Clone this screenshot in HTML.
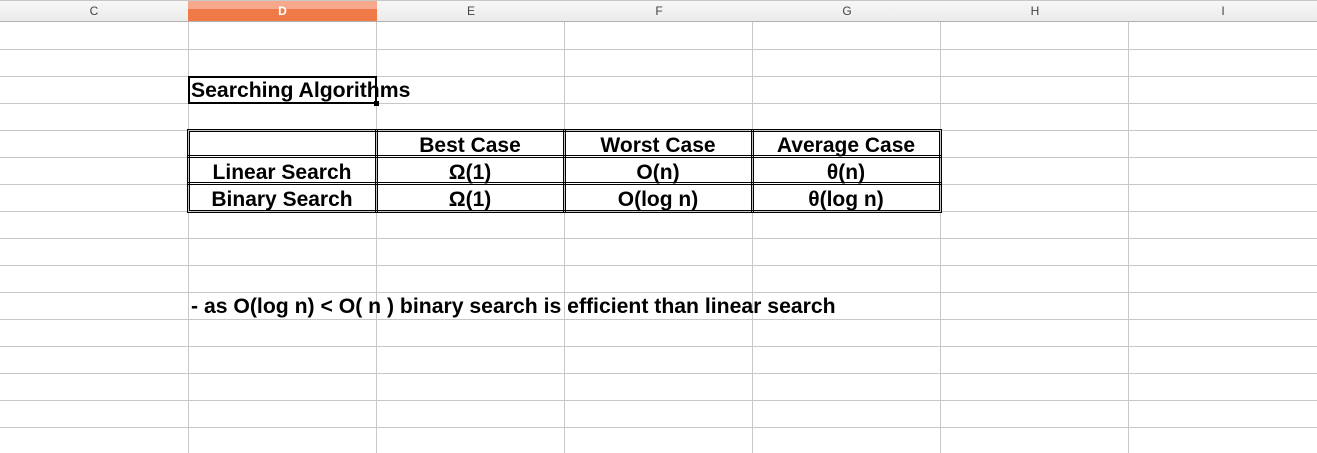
<!DOCTYPE html>
<html><head><meta charset="utf-8"><style>
body{margin:0;width:1317px;height:453px;overflow:hidden;background:#fff;font-family:"Liberation Sans",sans-serif;position:relative}
.hdr{position:absolute;top:0;height:22px;background:linear-gradient(#f7f7f7,#ebebeb);border-top:1px solid #c8c8c8;border-bottom:1px solid #b0b0b0;box-sizing:border-box;font-size:12px;color:#444;text-align:center;line-height:21px}
.hdr.sel{background:linear-gradient(#f6a88c 0,#f6a88c 40%,#ef7a48 40%,#ef7a48 100%);color:#fff;font-weight:bold}
.v{position:absolute;top:22px;bottom:0;width:1px;background:#c8c8c8}
.hl{position:absolute;left:0;right:0;height:1px;background:#c8c8c8}
.t{position:absolute;font-weight:bold;font-size:21.2px;color:#000;white-space:nowrap}
.c{position:absolute;font-weight:bold;font-size:21px;text-align:center;width:188px;line-height:27px}
.dbl{position:absolute;border:3px double #000;box-sizing:border-box}
</style></head><body>
<div class="hdr" style="left:0;width:188px">C</div>
<div class="hdr sel" style="left:188px;width:189px">D</div>
<div class="hdr" style="left:377px;width:188px">E</div>
<div class="hdr" style="left:565px;width:188px">F</div>
<div class="hdr" style="left:753px;width:188px">G</div>
<div class="hdr" style="left:941px;width:188px">H</div>
<div class="hdr" style="left:1129px;width:188px">I</div>
<div id="grid"></div>
<div class="dbl" style="left:188px;top:76px;width:189px;height:28px;border:2px solid #000"></div>
<div style="position:absolute;left:374px;top:101px;width:5px;height:5px;background:#000"></div>
<div class="t" style="left:191px;top:79px">Searching Algorithms</div>
<div class="dbl" style="left:187px;top:129px;width:755px;height:84px"></div>
<div id="tbl"></div>
<div class="t" style="left:191px;top:295px">- as O(log n) &lt; O( n ) binary search is efficient than linear search</div>
<script>
const grid=document.getElementById('grid');
[188,376,564,752,940,1128].forEach(x=>{const d=document.createElement('div');d.className='v';d.style.left=x+'px';


grid.appendChild(d);});
for(let y=49;y<453;y+=27){const d=document.createElement('div');d.className='hl';d.style.top=y+'px';


grid.appendChild(d);}
const tbl=document.getElementById('tbl');
[376,564,752].forEach(x=>{const d=document.createElement('div');d.className='dbl';d.style.cssText=`left:${x-1}px;top:129px;width:3px;height:84px;border-width:0 3px 0 0`;


tbl.appendChild(d);});
[156,183].forEach(y=>{const d=document.createElement('div');d.className='dbl';d.style.cssText=`left:187px;top:${y-1}px;width:755px;height:3px;border-width:3px 0 0 0`;


tbl.appendChild(d);});
const rows=[["","Best Case","Worst Case","Average Case"],["Linear Search","Ω(1)","O(n)","θ(n)"],["Binary Search","Ω(1)","O(log n)","θ(log n)"]];
rows.forEach((r,i)=>r.forEach((s,j)=>{const d=document.createElement('div');d.className='c';d.textContent=s;
d.style.left=(188+188*j)+'px';d.style.top=(132+27*i)+'px';


tbl.appendChild(d);}));
</script>
</body></html>
